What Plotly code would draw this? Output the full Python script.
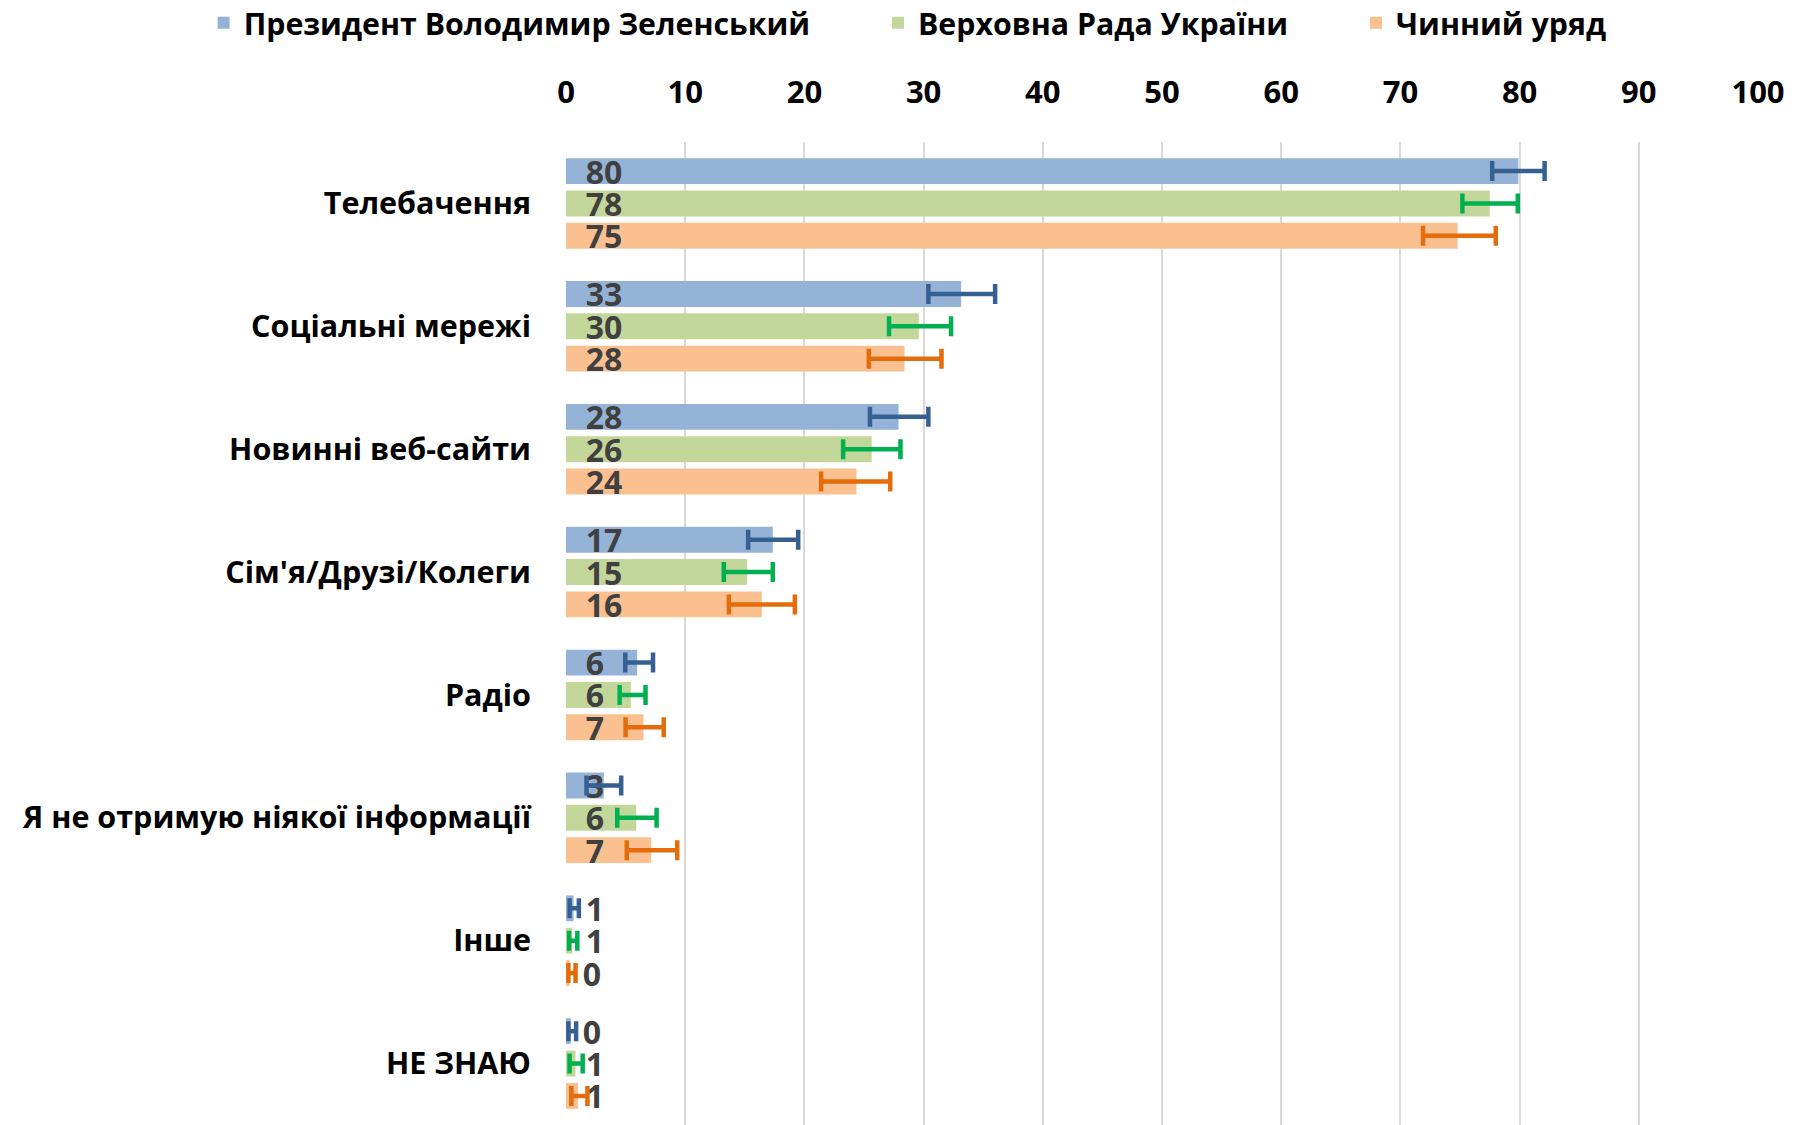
import plotly.graph_objects as go

categories = [
    "Телебачення",
    "Соціальні мережі",
    "Новинні веб-сайти",
    "Сім'я/Друзі/Колеги",
    "Радіо",
    "Я не отримую ніякої інформації",
    "Інше",
    "НЕ ЗНАЮ",
]
x_ticks = [0, 10, 20, 30, 40, 50, 60, 70, 80, 90, 100]

# Президент Володимир Зеленський
president = [79.9, 33.15, 27.9, 17.35, 5.97, 3.17, 0.63, 0.4]
president_labels = [80, 33, 28, 17, 6, 3, 1, 0]
president_err_minus = [2.2, 2.75, 2.4, 2.07, 1.0, 1.45, 0.33, 0.2]
president_err_plus = [2.2, 2.85, 2.5, 2.13, 1.33, 1.46, 0.45, 0.45]

# Верховна Рада України
rada = [77.5, 29.6, 25.65, 15.2, 5.44, 5.89, 0.52, 0.8]
rada_labels = [78, 30, 26, 15, 6, 6, 1, 1]
rada_err_minus = [2.3, 2.5, 2.4, 1.96, 0.94, 1.59, 0.26, 0.5]
rada_err_plus = [2.35, 2.7, 2.41, 2.15, 1.23, 1.71, 0.43, 0.6]

# Чинний уряд
uryad = [74.8, 28.4, 24.37, 16.43, 6.5, 7.15, 0.3, 1.0]
uryad_labels = [75, 28, 24, 16, 7, 7, 0, 1]
uryad_err_minus = [2.9, 3.0, 2.97, 2.77, 1.5, 2.05, 0.1, 0.55]
uryad_err_plus = [3.2, 3.1, 2.83, 2.77, 1.7, 2.18, 0.5, 0.8]

FONT = "Open Sans"
GAP = "\u00a0" * 8  # extra room between legend entries

series = [
    ("Президент Володимир Зеленський", president, president_labels,
     president_err_minus, president_err_plus, "#95B3D7", "#376092"),
    ("Верховна Рада України", rada, rada_labels,
     rada_err_minus, rada_err_plus, "#C4D79B", "#00B050"),
    ("Чинний уряд", uryad, uryad_labels,
     uryad_err_minus, uryad_err_plus, "#FAC090", "#E46C0A"),
]

fig = go.Figure()
for name, values, labels, err_minus, err_plus, color, err_color in series:
    fig.add_trace(
        go.Bar(
            name=name + GAP,
            y=categories,
            x=values,
            orientation="h",
            marker=dict(color=color, line=dict(width=0)),
            text=["\u00a0\u00a0" + str(v) for v in labels],
            textposition="inside",
            insidetextanchor="start",
            textangle=0,
            constraintext="none",
            textfont=dict(family=FONT, size=32, color="#404040", weight="bold"),
            error_x=dict(
                type="data",
                symmetric=False,
                array=err_plus,
                arrayminus=err_minus,
                color=err_color,
                thickness=4.5,
                width=10,
            ),
            cliponaxis=False,
        )
    )

# page body adds 8px offset, so the figure is 8px smaller than the window
fig.update_layout(
    width=1790,
    height=1117,
    barmode="group",
    bargap=0.21,
    bargroupgap=0.2,
    paper_bgcolor="white",
    plot_bgcolor="white",
    margin=dict(l=558, r=40, t=134, b=0, autoexpand=False),
    font=dict(family=FONT, size=30.5, color="black", weight="bold"),
    legend=dict(
        orientation="h",
        x=-0.304,
        xanchor="left",
        y=1.121,
        yanchor="middle",
        font=dict(family=FONT, size=30.3, color="black", weight="bold"),
        traceorder="normal",
    ),
    xaxis=dict(
        side="top",
        range=[0, 100],
        tickvals=x_ticks,
        showgrid=True,
        gridcolor="#D9D9D9",
        gridwidth=2,
        zeroline=False,
        showline=False,
        ticks="",
        ticklabelstandoff=32,
        tickfont=dict(family=FONT, size=31, color="black", weight="bold"),
    ),
    yaxis=dict(
        autorange="reversed",
        showgrid=False,
        zeroline=False,
        showline=False,
        ticks="",
        ticklabelstandoff=34,
        tickfont=dict(family=FONT, size=30.5, color="black", weight="bold"),
    ),
)

fig.write_html("out.html")
